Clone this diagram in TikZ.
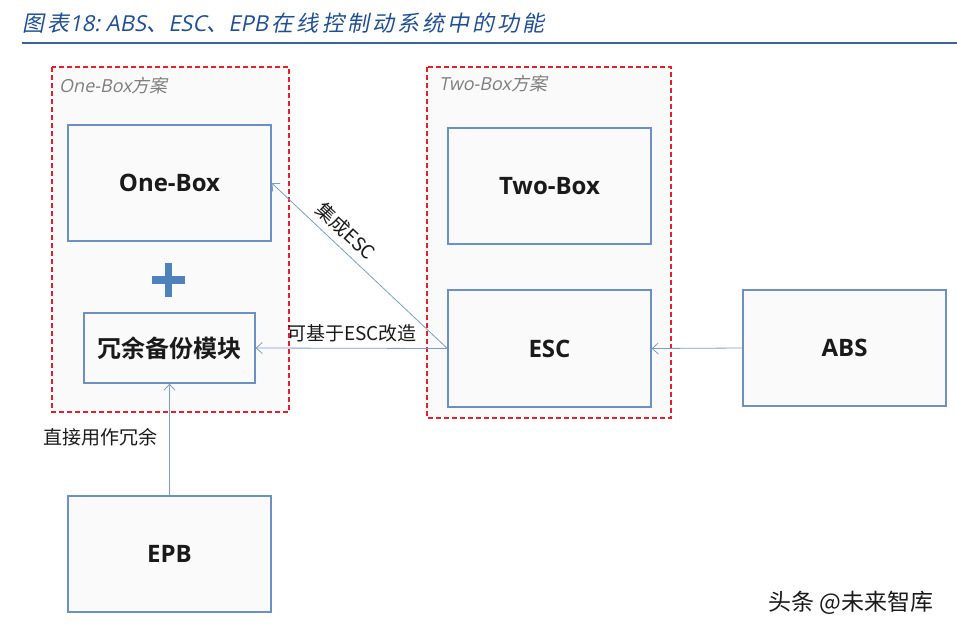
\documentclass[tikz,border=0pt]{standalone}
\usepackage{fontspec}
\setmainfont{Open Sans}
\newfontfamily\cjk{Noto Sans CJK SC}
\newfontfamily\cjkb{Noto Sans CJK SC Bold}
\newfontfamily\cjkit{Noto Sans CJK SC}[FakeSlant=0.2,LetterSpace=14]
\newfontfamily\cjksl{Noto Sans CJK SC}[FakeSlant=0.2]
\newfontfamily\opit{Open Sans}[FakeSlant=0.2]
\newfontfamily\opb{Open Sans}[FakeBold=0.6]
\usetikzlibrary{arrows.meta}
\definecolor{boxblue}{HTML}{6C8FC4}
\definecolor{linkblue}{HTML}{7D9CC8}
\definecolor{plusblue}{HTML}{4F81BD}
\definecolor{titleblue}{HTML}{1F4E96}
\definecolor{ruleblue}{HTML}{3A6496}
\definecolor{dashred}{HTML}{E5202E}
\definecolor{groupfill}{HTML}{FAFAFA}
\definecolor{txt}{HTML}{1A1A1A}
\definecolor{glbl}{HTML}{7F7F7F}
\tikzset{
  block/.style={draw=boxblue, line width=1.3pt, fill=groupfill, minimum width=203pt, minimum height=116pt, inner sep=0pt, font=\fontsize{24}{28}\selectfont\bfseries, text=txt},
  group/.style={draw=dashred, line width=1.2pt, dash pattern=on 5pt off 3pt, fill=groupfill},
  link/.style={draw=linkblue, line width=0.8pt, -{Straight Barb[length=6pt,width=11pt,line width=0.8pt]}},
  lbl/.style={font=\cjk\fontsize{19}{22}\selectfont, text=txt, inner sep=0pt},
  grouplbl/.style={font=\opit\fontsize{18}{22}\selectfont, text=glbl, anchor=west, inner sep=0pt}
}
\begin{document}
\begin{tikzpicture}[x=1pt,y=-1pt]
\useasboundingbox (0,0) rectangle (957,632);
% title
\node[anchor=base west, inner sep=0pt, text=titleblue, font=\fontsize{22}{24}\selectfont] (title) at (22,31)
  {{\cjkit 图表}{\opit 18:\ ABS}{\cjkit 、}{\opit ESC}{\cjkit 、}{\opit EPB}\,{\cjkit 在线控制动系统中的功能}};
\coordinate (rl) at (22,43);
\coordinate (rr) at (957,43);
\draw[ruleblue, line width=2.5pt] (rl) -- (rr);
% groups
\draw[group] (52,67) rectangle (289,412);
\draw[group] (427,67) rectangle (671,418);
\node[grouplbl] (g1) at (59,86) {One-Box{\cjksl 方案}};
\node[grouplbl] (g2) at (439,84) {Two-Box{\cjksl 方案}};
% blocks
\node[block] (onebox) at (169.5,183) {One-Box};
\node[block, minimum width=171pt, minimum height=70pt, font=\cjkb\fontsize{24}{28}\selectfont] (redund) at (169.5,348) {冗余备份模块};
\node[block] (twobox) at (549.5,186) {Two-Box};
\node[block, minimum height=117pt] (esc) at (549.5,348.5) {ESC};
\node[block] (abs) at (844.5,348) {ABS};
\node[block] (epb) at (169.5,554) {EPB};
% plus
\draw[plusblue, line width=7.5pt] (152,280) -- (185,280);
\draw[plusblue, line width=7.5pt] (168.5,263) -- (168.5,297);
% links
\draw[link] (abs.west) -- (esc.east);
\draw[link] (esc.west) -- (redund.east);
\draw[link] (esc.west) -- (onebox.east);
\draw[link] (epb.north) -- (redund.south);
% labels
\node[lbl, rotate=-43] (l1) at (346,231) {集成ESC};
\node[lbl] (l2) at (352,333) {可基于ESC改造};
\node[lbl] (l3) at (100,437) {直接用作冗余};
\node[font=\cjk\fontsize{23}{26}\selectfont, text=txt, inner sep=0pt] (wm) at (851,603) {头条 @未来智库};
\end{tikzpicture}
\end{document}
